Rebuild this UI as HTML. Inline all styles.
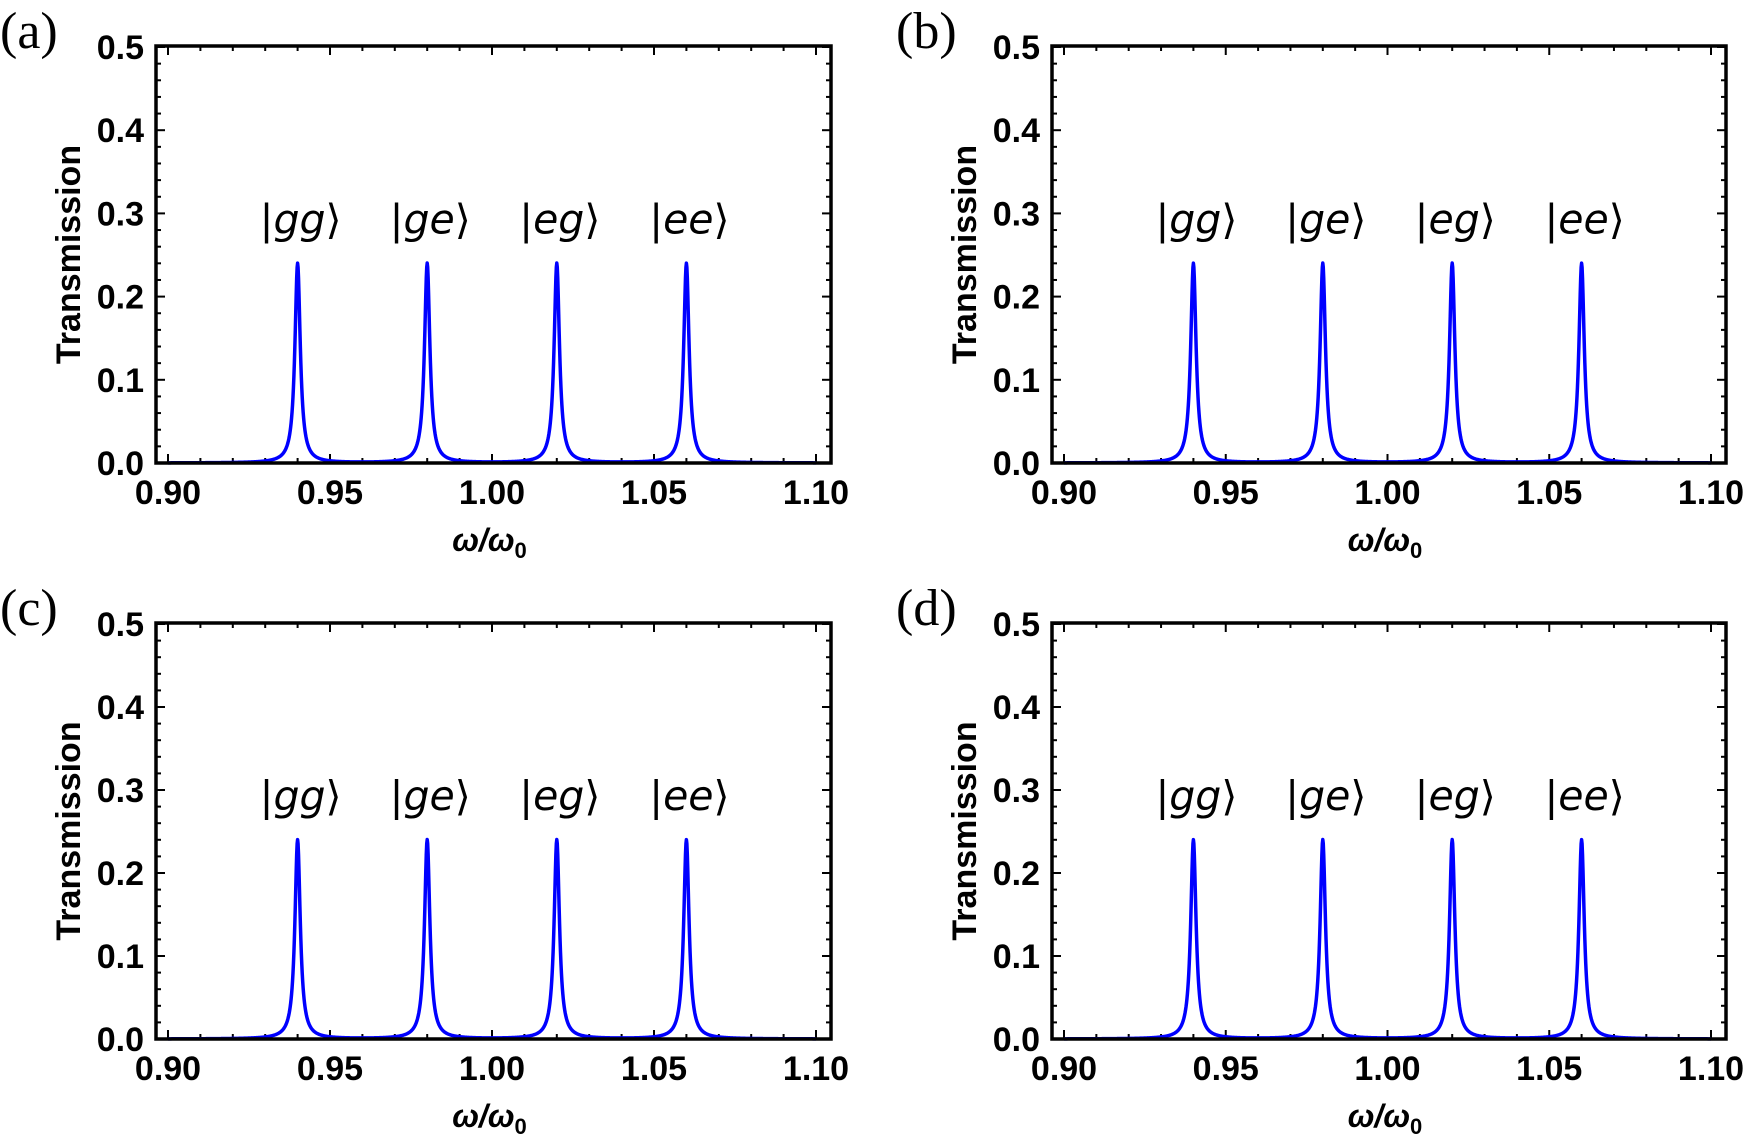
<!DOCTYPE html>
<html><head><meta charset="utf-8"><style>
html,body{margin:0;padding:0;background:#fff;}
svg{display:block;}
</style></head><body>
<svg id="fig" width="1748" height="1142" xmlns="http://www.w3.org/2000/svg"></svg>
<script>
const peakCenters = [0.94, 0.98, 1.02, 1.06];
const peakHeights = [0.24, 0.24, 0.24, 0.24];
const peakWidths = [0.001, 0.001, 0.001, 0.001];
const peakLabels = ["gg", "ge", "eg", "ee"];
const xTicks = [0.90, 0.95, 1.00, 1.05, 1.10];
const xTickLabels = ["0.90", "0.95", "1.00", "1.05", "1.10"];
const yTicks = [0.0, 0.1, 0.2, 0.3, 0.4, 0.5];
const yTickLabels = ["0.0", "0.1", "0.2", "0.3", "0.4", "0.5"];
const panelLetters = ["(a)", "(b)", "(c)", "(d)"];

const NS = "http://www.w3.org/2000/svg";
const svg = document.getElementById("fig");
function mk(tag, attrs, parent, text){
  const e = document.createElementNS(NS, tag);
  for (const k in attrs) e.setAttribute(k, attrs[k]);
  if (text !== undefined) e.textContent = text;
  parent.appendChild(e);
  return e;
}
const panels = [
  {l:156, t:46, r:831, b:463},
  {l:1052, t:46, r:1726, b:463},
  {l:156, t:623, r:831, b:1039},
  {l:1052, t:623, r:1726, b:1039}
];
panels.forEach((p, i) => {
  const g = mk("g", {}, svg);
  
  
  const xs = v => p.l + 12 + (v - 0.90) / 0.20 * (p.r - p.l - 27);
  const ys = v => p.b - v / 0.5 * (p.b - p.t - 1);
  const lt = mk("text", {x: p.l - 156, y: p.t + 2, "font-family": "Liberation Serif, serif", "font-size": 52}, g, panelLetters[i]);
  
  
  for (let k = 0; k <= 20; k++) {
    const v = 0.90 + k * 0.01, x = xs(v), major = k % 5 === 0, len = major ? 9 : 5;
    mk("line", {x1: x, y1: p.b, x2: x, y2: p.b - len, stroke: "#000", "stroke-width": 2}, g);
    mk("line", {x1: x, y1: p.t, x2: x, y2: p.t + len, stroke: "#000", "stroke-width": 2}, g);
  }
  for (let k = 0; k <= 25; k++) {
    const y = ys(k * 0.02), major = k % 5 === 0, len = major ? 9 : 5;
    mk("line", {x1: p.l, y1: y, x2: p.l + len, y2: y, stroke: "#000", "stroke-width": 2}, g);
    mk("line", {x1: p.r, y1: y, x2: p.r - len, y2: y, stroke: "#000", "stroke-width": 2}, g);
  }
  xTicks.forEach((v, j) => {
    const t = mk("text", {x: xs(v), y: p.b + 41, "text-anchor": "middle", "font-family": "Liberation Sans, sans-serif", "font-weight": "bold", "font-size": 34}, g, xTickLabels[j]);
    
    
  });
  yTicks.forEach((v, j) => {
    const t = mk("text", {x: p.l - 12, y: ys(v) + 12, "text-anchor": "end", "font-family": "Liberation Sans, sans-serif", "font-weight": "bold", "font-size": 34}, g, yTickLabels[j]);
    
    
  });
  const yt = mk("text", {x: 0, y: 0, transform: `translate(${p.l - 76},${(p.t + p.b) / 2}) rotate(-90)`, "text-anchor": "middle", "font-family": "Liberation Sans, sans-serif", "font-weight": "bold", "font-size": 34}, g, "Transmission");
  
  
  const xt = mk("text", {x: (p.l + p.r) / 2 - 4, y: p.b + 88, "text-anchor": "middle", "font-family": "Liberation Sans, sans-serif", "font-weight": "bold", "font-style": "italic", "font-size": 32}, g);
  
  
  mk("tspan", {}, xt, "ω/ω");
  mk("tspan", {"font-size": 22, dy: 7, "font-style": "normal"}, xt, "0");
  let d = "";
  const N = 1400;
  for (let k = 0; k <= N; k++) {
    const v = 0.90 + 0.20 * k / N;
    let y = 0;
    peakCenters.forEach((c, j) => {
      const u = (v - c) / peakWidths[j];
      y += peakHeights[j] / (1 + u * u);
    });
    d += (k ? "L" : "M") + xs(v).toFixed(2) + "," + ys(y).toFixed(2);
  }
  const path = mk("path", {d: d, fill: "none", stroke: "#0000ff", "stroke-width": 3.5, "stroke-linejoin": "round"}, g);
  
  
  peakCenters.forEach((c, j) => {
    const t = mk("text", {x: xs(c) + 3, y: ys(peakHeights[j]) - 30, "text-anchor": "middle", "font-family": "DejaVu Sans, sans-serif", "font-size": 41}, g);
    
    
    mk("tspan", {}, t, "|");
    mk("tspan", {"font-style": "italic"}, t, peakLabels[j]);
    mk("tspan", {}, t, "⟩");
  });
  const fr = mk("rect", {x: p.l, y: p.t, width: p.r - p.l, height: p.b - p.t, fill: "none", stroke: "#000", "stroke-width": 3.5}, g);
  
  
});
</script>
</body></html>
